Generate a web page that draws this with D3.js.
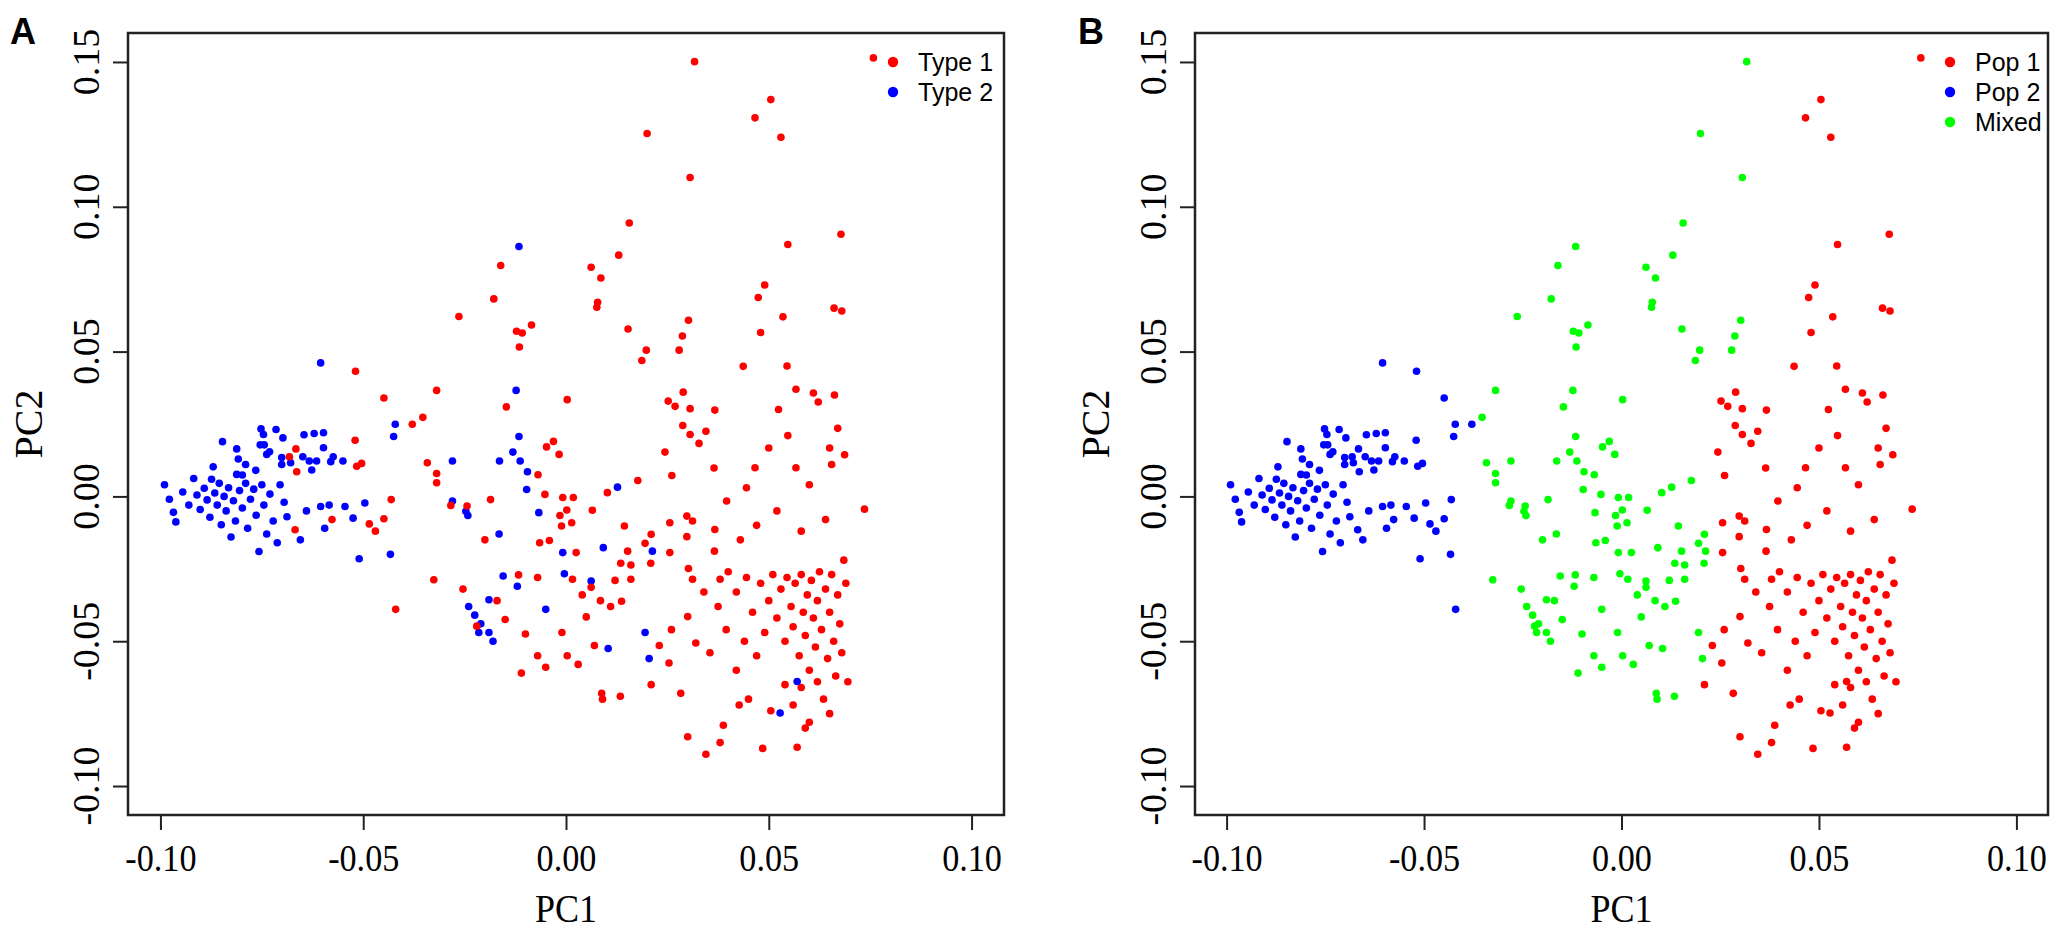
<!DOCTYPE html>
<html>
<head>
<meta charset="utf-8">
<style>
  body { margin: 0; background: #fff; }
  text { fill: #000; }
</style>
</head>
<body>
<svg width="2069" height="932"></svg>
<script src="https://d3js.org/d3.v7.min.js"></script>
<script>

// Points: [PC1, PC2, type]. The groups are the populations of panel B,
// the third value is the type shown in panel A (1 = Type 1, 2 = Type 2).
var pop2 = [
	[-0.0605,0.0461,2],[-0.0847,0.0189,2],[-0.0812,0.0164,2],[-0.0808,0.0129,2],[-0.0812,0.0076,2],
	[-0.0798,0.0074,2],[-0.0874,0.0059,2],[-0.0752,0.0233,2],[-0.0746,0.0214,2],[-0.0754,0.0178,2],
	[-0.0744,0.0178,2],[-0.0715,0.0231,2],[-0.0698,0.0202,2],[-0.0731,0.0154,2],[-0.0738,0.0145,2],
	[-0.0701,0.0134,2],[-0.0701,0.0110,2],[-0.0679,0.0116,2],[-0.0646,0.0213,2],[-0.0621,0.0217,2],
	[-0.0598,0.0220,2],[-0.0598,0.0168,2],[-0.0649,0.0137,2],[-0.0633,0.0122,2],[-0.0615,0.0122,2],
	[-0.0627,0.0091,2],[-0.0574,0.0137,2],[-0.0580,0.0120,2],[-0.0550,0.0122,2],[-0.0584,-0.0030,2],
	[-0.0496,-0.0023,2],[-0.0425,0.0207,2],[-0.0421,0.0249,2],[-0.0510,-0.0215,2],[-0.0433,-0.0200,2],
	[-0.0990,0.0040,2],[-0.0978,-0.0010,2],[-0.0968,-0.0055,2],[-0.0962,-0.0088,2],[-0.0945,0.0015,2],
	[-0.0930,-0.0030,2],[-0.0918,0.0062,2],[-0.0910,0.0005,2],[-0.0902,-0.0045,2],[-0.0892,0.0028,2],
	[-0.0885,-0.0012,2],[-0.0878,-0.0072,2],[-0.0870,0.0102,2],[-0.0866,0.0012,2],[-0.0860,-0.0030,2],
	[-0.0855,0.0045,2],[-0.0850,-0.0098,2],[-0.0843,0.0000,2],[-0.0838,-0.0050,2],[-0.0832,0.0030,2],
	[-0.0826,-0.0140,2],[-0.0820,-0.0015,2],[-0.0815,-0.0085,2],[-0.0805,0.0020,2],[-0.0798,-0.0040,2],
	[-0.0790,0.0045,2],[-0.0785,-0.0110,2],[-0.0778,-0.0010,2],[-0.0770,0.0025,2],[-0.0764,-0.0065,2],
	[-0.0757,-0.0190,2],[-0.0750,0.0040,2],[-0.0745,-0.0030,2],[-0.0738,-0.0130,2],[-0.0730,0.0008,2],
	[-0.0722,-0.0085,2],[-0.0712,-0.0160,2],[-0.0705,0.0040,2],[-0.0695,-0.0020,2],[-0.0688,-0.0070,2],
	[-0.0655,-0.0150,2],[-0.0640,-0.0050,2],[-0.0605,-0.0035,2],[-0.0595,-0.0110,2],[-0.0545,-0.0035,2],
	[-0.0525,-0.0075,2],[-0.0765,0.0090,2],[-0.0790,0.0110,2],
	[-0.0682,0.0137,1],[-0.0666,0.0164,1],[-0.0664,0.0085,1],[-0.0668,-0.0115,1],[-0.0577,-0.0080,1],
	[-0.0519,0.0432,1],[-0.0449,0.0340,1],[-0.0379,0.0249,1],[-0.0520,0.0194,1],[-0.0516,0.0104,1],
	[-0.0504,0.0114,1],[-0.0431,-0.0011,1],[-0.0485,-0.0095,1],[-0.0470,-0.0120,1],[-0.0449,-0.0077,1],
	[-0.0420,-0.0390,1]
];

var mixed = [
	[-0.0116,0.0863,2],[-0.0123,0.0366,2],[-0.0116,0.0207,2],[-0.0280,0.0122,2],[-0.0164,0.0122,2],
	[-0.0131,0.0153,2],[-0.0113,0.0122,2],[-0.0095,0.0085,2],[-0.0097,0.0024,2],[-0.0280,-0.0016,2],
	[-0.0247,-0.0051,2],[-0.0242,-0.0066,2],[-0.0067,-0.0056,2],[0.0127,0.0032,2],[-0.0008,-0.0194,2],
	[0.0092,-0.0177,2],[0.0213,-0.0189,2],[-0.0004,-0.0267,2],[0.0062,-0.0292,2],[-0.0165,-0.0130,2],
	[-0.0155,-0.0275,2],[-0.0120,-0.0310,2],[-0.0240,-0.0380,2],[-0.0225,-0.0410,2],[-0.0210,-0.0440,2],
	[-0.0190,-0.0357,2],[-0.0215,-0.0470,2],[-0.0190,-0.0470,2],[-0.0180,-0.0500,2],[-0.0050,-0.0390,2],
	[0.0104,-0.0525,2],[0.0195,-0.0470,2],[0.0205,-0.0560,2],
	[0.0317,0.1501,1],[0.0200,0.1253,1],[0.0306,0.1101,1],[0.0156,0.0944,1],[0.0130,0.0833,1],
	[0.0062,0.0791,1],[0.0086,0.0754,1],[0.0078,0.0670,1],[0.0076,0.0653,1],[-0.0085,0.0592,1],
	[0.0153,0.0578,1],[0.0302,0.0608,1],[0.0287,0.0554,1],[0.0198,0.0505,1],[0.0187,0.0469,1],
	[0.0279,0.0505,1],[-0.0161,0.0797,1],[-0.0178,0.0682,1],[-0.0264,0.0621,1],[-0.0122,0.0570,1],
	[-0.0108,0.0564,1],[-0.0115,0.0516,1],[-0.0319,0.0366,1],[-0.0147,0.0309,1],[-0.0353,0.0273,1],
	[-0.0342,0.0116,1],[-0.0319,0.0079,1],[-0.0319,0.0047,1],[-0.0069,0.0075,1],[-0.0048,0.0171,1],
	[-0.0031,0.0190,1],[-0.0017,0.0145,1],[-0.0052,0.0007,1],[-0.0284,-0.0031,1],[-0.0244,-0.0033,1],
	[-0.0186,-0.0011,1],[0.0003,0.0334,1],[-0.0008,-0.0004,1],[0.0018,-0.0004,1],[0.0102,0.0013,1],
	[0.0177,0.0055,1],[0.0002,-0.0047,1],[-0.0015,-0.0066,1],[-0.0011,-0.0102,1],[0.0014,-0.0091,1],
	[0.0065,-0.0048,1],[0.0144,-0.0102,1],[-0.0041,-0.0152,1],[0.0025,-0.0194,1],[0.0152,-0.0189,1],
	[0.0195,-0.0162,1],[0.0210,-0.0131,1],[0.0135,-0.0231,1],[0.0160,-0.0237,1],[0.0209,-0.0231,1],
	[0.0016,-0.0286,1],[0.0062,-0.0314,1],[0.0121,-0.0290,1],[0.0160,-0.0286,1],[-0.0326,-0.0288,1],
	[-0.0254,-0.0320,1],[-0.0220,-0.0448,1],[-0.0170,-0.0360,1],[-0.0150,-0.0425,1],[-0.0117,-0.0271,1],
	[-0.0070,-0.0280,1],[-0.0100,-0.0475,1],[-0.0070,-0.0550,1],[-0.0110,-0.0610,1],[-0.0050,-0.0590,1],
	[0.0003,-0.0550,1],[0.0030,-0.0580,1],[-0.0010,-0.0470,1],[0.0040,-0.0340,1],[0.0085,-0.0360,1],
	[0.0110,-0.0380,1],[0.0137,-0.0362,1],[0.0050,-0.0416,1],[0.0070,-0.0515,1],[0.0088,-0.0680,1],
	[0.0090,-0.0700,1],[0.0134,-0.0690,1],[-0.0065,-0.0160,1],[-0.0200,-0.0150,1]
];

var pop1 = [
	[0.0289,0.0360,1],[0.0252,0.0329,1],[0.0269,0.0311,1],[0.0306,0.0303,1],[0.0367,0.0298,1],
	[0.0288,0.0245,1],[0.0306,0.0214,1],[0.0345,0.0225,1],[0.0328,0.0183,1],[0.0244,0.0153,1],
	[0.0365,0.0098,1],[0.0261,0.0072,1],[0.0396,-0.0016,1],[0.0256,-0.0091,1],[0.0298,-0.0068,1],
	[0.0312,-0.0085,1],[0.0367,-0.0114,1],[0.0256,-0.0194,1],[0.0366,-0.0189,1],[0.0298,-0.0139,1],
	[0.0302,-0.0249,1],[0.0312,-0.0286,1],[0.0380,-0.0286,1],[0.0437,0.0449,1],[0.0466,0.1307,1],
	[0.0474,0.0687,1],[0.0480,0.0566,1],[0.0505,0.1370,1],[0.0530,0.1240,1],[0.0758,0.1514,1],
	[0.0547,0.0870,1],[0.0678,0.0905,1],[0.0661,0.0650,1],[0.0680,0.0640,1],[0.0490,0.0730,1],
	[0.0535,0.0620,1],[0.0545,0.0450,1],[0.0567,0.0370,1],[0.0610,0.0357,1],[0.0622,0.0326,1],
	[0.0662,0.0350,1],[0.0670,0.0235,1],[0.0687,0.0144,1],[0.0650,0.0167,1],[0.0655,0.0110,1],
	[0.0547,0.0210,1],[0.0524,0.0300,1],[0.0500,0.0167,1],[0.0466,0.0099,1],[0.0567,0.0099,1],
	[0.0736,-0.0044,1],[0.0600,0.0040,1],[0.0520,-0.0050,1],[0.0445,0.0030,1],[0.0430,-0.0150,1],
	[0.0470,-0.0100,1],[0.0580,-0.0120,1],[0.0640,-0.0080,1],[0.0400,-0.0260,1],[0.0420,-0.0330,1],
	[0.0445,-0.0280,1],[0.0460,-0.0400,1],[0.0480,-0.0300,1],[0.0490,-0.0470,1],[0.0500,-0.0360,1],
	[0.0510,-0.0270,1],[0.0520,-0.0420,1],[0.0530,-0.0320,1],[0.0540,-0.0500,1],[0.0545,-0.0280,1],
	[0.0555,-0.0380,1],[0.0560,-0.0450,1],[0.0565,-0.0300,1],[0.0575,-0.0550,1],[0.0580,-0.0270,1],
	[0.0585,-0.0400,1],[0.0590,-0.0480,1],[0.0595,-0.0340,1],[0.0600,-0.0600,1],[0.0605,-0.0290,1],
	[0.0610,-0.0420,1],[0.0615,-0.0520,1],[0.0620,-0.0360,1],[0.0625,-0.0260,1],[0.0630,-0.0460,1],
	[0.0635,-0.0700,1],[0.0640,-0.0320,1],[0.0645,-0.0560,1],[0.0650,-0.0400,1],[0.0655,-0.0270,1],
	[0.0660,-0.0500,1],[0.0665,-0.0620,1],[0.0670,-0.0340,1],[0.0675,-0.0440,1],[0.0680,-0.0540,1],
	[0.0685,-0.0220,1],[0.0690,-0.0300,1],[0.0695,-0.0640,1],[0.0540,-0.0650,1],[0.0560,-0.0720,1],
	[0.0580,-0.0660,1],[0.0620,-0.0640,1],[0.0650,-0.0750,1],[0.0600,-0.0780,1],[0.0570,-0.0866,1],
	[0.0590,-0.0800,1],[0.0505,-0.0740,1],[0.0485,-0.0870,1],[0.0450,-0.0700,1],[0.0427,-0.0720,1],
	[0.0388,-0.0790,1],[0.0380,-0.0850,1],[0.0345,-0.0890,1],[0.0300,-0.0830,1],[0.0470,-0.0550,1],
	[0.0440,-0.0500,1],[0.0420,-0.0600,1],[0.0395,-0.0460,1],[0.0375,-0.0380,1],[0.0355,-0.0540,1],
	[0.0320,-0.0506,1],[0.0300,-0.0415,1],[0.0283,-0.0680,1],[0.0260,-0.0460,1],[0.0254,-0.0575,1],
	[0.0230,-0.0515,1],[0.0210,-0.0650,1],[0.0340,-0.0330,1],
	[0.0528,-0.0748,2],[0.0570,-0.0639,2]
];

var xTicks = [-0.10, -0.05, 0.00, 0.05, 0.10];
var yTicks = [-0.10, -0.05, 0.00, 0.05, 0.10, 0.15];
var typeLabels = ["Type 1", "Type 2"];
var popLabels = ["Pop 1", "Pop 2", "Mixed"];

var svg = d3.select("svg");
svg.append("rect").attr("width", 2069).attr("height", 932).style("fill", "#fff");

var serif = "'Liberation Serif', 'Times New Roman', serif",
	sans = "'Liberation Sans', Arial, sans-serif",
	plotTop = 33, plotBottom = 815;

var y = d3.scaleLinear().domain([-0.11, 0.16]).range([plotBottom, plotTop]);

var allPoints = pop1.map(function(d) { return {pc1: d[0], pc2: d[1], type: d[2], pop: 0}; })
	.concat(pop2.map(function(d) { return {pc1: d[0], pc2: d[1], type: d[2], pop: 1}; }))
	.concat(mixed.map(function(d) { return {pc1: d[0], pc2: d[1], type: d[2], pop: 2}; }));

var typeColour = d3.scaleOrdinal().domain([1, 2]).range(["#ff0000", "#0000ff"]);
var popColour = d3.scaleOrdinal().domain([0, 1, 2]).range(["#ff0000", "#0000ff", "#00ff00"]);

function panel(opt) {
	var x = d3.scaleLinear().domain([-0.108, 0.108]).range([opt.left, opt.right]);
	var g = svg.append("g");

	// points
	g.selectAll("circle")
		.data(allPoints)
		.enter().append("circle")
			.attr("cx", function(d) { return x(d.pc1); })
			.attr("cy", function(d) { return y(d.pc2); })
			.attr("r", 3.8)
			.style("fill", opt.colour);

	// frame
	g.append("rect")
		.attr("x", opt.left).attr("y", plotTop)
		.attr("width", opt.right - opt.left).attr("height", plotBottom - plotTop)
		.style("fill", "none").style("stroke", "#222").style("stroke-width", 2.5);

	// x axis
	var xa = g.append("g")
		.attr("transform", "translate(0," + plotBottom + ")")
		.call(d3.axisBottom(x).tickValues(xTicks).tickSize(15).tickPadding(14)
			.tickFormat(function(d) { return d.toFixed(2); }));
	xa.select(".domain").remove();
	xa.selectAll("line").style("stroke", "#222").style("stroke-width", 2);
	xa.selectAll("text")
		.style("font-family", serif).style("font-size", "38px").style("fill", "#000")
		.attr("transform", "scale(0.9,1)");

	// y axis
	var ya = g.append("g")
		.attr("transform", "translate(" + opt.left + ",0)")
		.call(d3.axisLeft(y).tickValues(yTicks).tickSize(15).tickFormat(""));
	ya.select(".domain").remove();
	ya.selectAll("line").style("stroke", "#222").style("stroke-width", 2);

	g.selectAll(".ylab")
		.data(yTicks)
		.enter().append("text")
			.attr("class", "ylab")
			.attr("transform", function(d) { return "translate(" + (opt.left - 29) + "," + y(d) + ") rotate(-90)"; })
			.attr("text-anchor", "middle")
			.style("font-family", serif).style("font-size", "38px")
			.text(function(d) { return d.toFixed(2); });

	// axis titles
	g.append("text")
		.attr("transform", "translate(" + x(0) + ",922) scale(0.9,1)")
		.attr("text-anchor", "middle")
		.style("font-family", serif).style("font-size", "40px")
		.text("PC1");
	g.append("text")
		.attr("transform", "translate(" + (opt.left - 86) + "," + y(0.025) + ") rotate(-90)")
		.attr("text-anchor", "middle")
		.style("font-family", serif).style("font-size", "40px")
		.text("PC2");

	// panel letter
	g.append("text")
		.attr("x", opt.letterX).attr("y", 44)
		.style("font-family", sans).style("font-weight", "bold").style("font-size", "36px")
		.text(opt.letter);

	// legend
	var lg = g.selectAll(".leg")
		.data(opt.legend)
		.enter().append("g")
			.attr("transform", function(d, i) { return "translate(" + opt.legendX + "," + (62 + i * 30) + ")"; });
	lg.append("circle").attr("r", 5.2).style("fill", function(d, i) { return opt.legendColour(i); });
	lg.append("text")
		.attr("x", 25).attr("dy", "0.35em")
		.style("font-family", sans).style("font-size", "25px")
		.text(function(d) { return d; });
}

panel({
	left: 128, right: 1004, letter: "A", letterX: 10,
	colour: function(d) { return typeColour(d.type); },
	legend: typeLabels, legendX: 893,
	legendColour: function(i) { return typeColour(i + 1); }
});

panel({
	left: 1195, right: 2048, letter: "B", letterX: 1078,
	colour: function(d) { return popColour(d.pop); },
	legend: popLabels, legendX: 1950,
	legendColour: function(i) { return popColour(i); }
});

</script>
</body>
</html>
